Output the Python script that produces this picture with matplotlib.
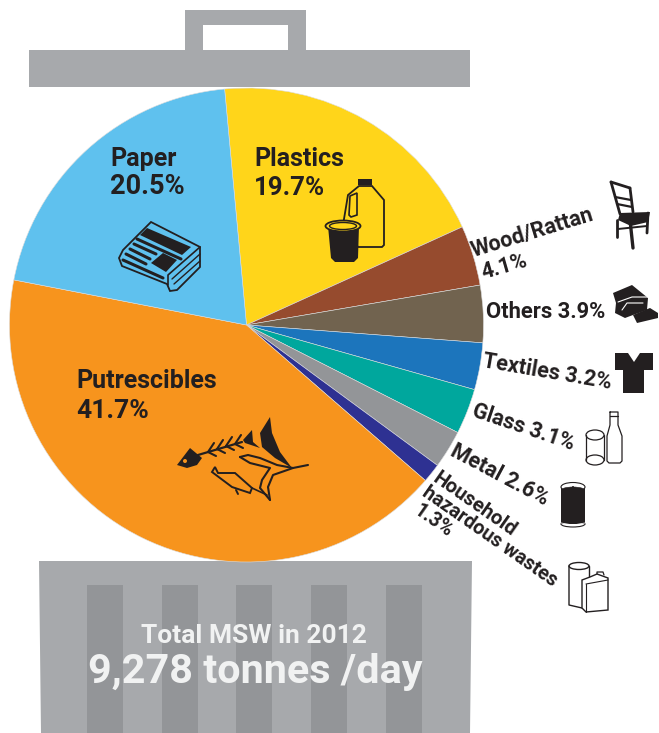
import matplotlib
matplotlib.use('Agg')
import matplotlib.pyplot as plt
import matplotlib.patches as mp

labels = ['Plastics', 'Wood/Rattan', 'Others', 'Textiles', 'Glass', 'Metal',
          'Household hazardous wastes', 'Putrescibles', 'Paper']
shares = [19.7, 4.1, 3.9, 3.2, 3.1, 2.6, 1.3, 41.7, 20.5]
colors = ['#ffd51a', '#964b2e', '#71634f', '#1c75bc', '#00a79d', '#939598',
          '#2e3192', '#f7941d', '#5fc1ee']

GREY = '#a7a9ac'
DARK = '#939598'
INK = '#231f20'
H = 733

plt.rcParams['font.family'] = ['Roboto', 'DejaVu Sans']

fig = plt.figure(figsize=(6.59, 7.33), dpi=100)
ax = fig.add_axes([0, 0, 1, 1])


# everything below is placed in image pixels, y measured from the top
def Y(y):
    return H - y


def poly(pts, fc=INK, ec='none', lw=0, z=5):
    ax.add_patch(mp.Polygon([(x, Y(y)) for x, y in pts], closed=True, facecolor=fc,
                            edgecolor=ec, linewidth=lw, zorder=z))


def rect(x0, y0, x1, y1, fc=GREY, z=1):
    poly([(x0, y0), (x1, y0), (x1, y1), (x0, y1)], fc=fc, z=z)


def line(pts, color=INK, lw=1.2, z=6):
    ax.plot([p[0] for p in pts], [Y(p[1]) for p in pts], color=color, lw=lw,
            zorder=z, solid_capstyle='round', solid_joinstyle='round')


def oval(x, y, w, h, fc='none', ec=INK, lw=1.2, z=6):
    ax.add_patch(mp.Ellipse((x, Y(y)), w, h, facecolor=fc, edgecolor=ec,
                            linewidth=lw, zorder=z))


def label(x, y, s, size=16, rot=0, color=INK, ha='left'):
    ax.text(x, Y(y), s, fontsize=size, rotation=rot, color=color, weight='bold',
            ha=ha, va='baseline', rotation_mode='anchor', zorder=8)


# bin
rect(185, 10, 306, 50)
rect(203, 25, 288, 50, fc='white', z=2)
rect(29, 50, 470, 87)
poly([(39, 561), (472, 561), (470, 733), (41, 733)], fc=GREY, z=1)
for x0, x1 in [(87, 123), (162, 198), (236, 272), (311, 347), (386, 422)]:
    rect(x0, 585, x1, 733, fc=DARK, z=2)

# pie
wedges, _ = ax.pie(shares, colors=colors, center=(246.5, Y(325)), radius=237,
                   startangle=95.3, counterclock=False,
                   wedgeprops={'linewidth': 0.4, 'edgecolor': '#dddddd', 'zorder': 3})
ax.set_xlim(0, 659)
ax.set_ylim(0, H)
ax.set_aspect('equal')
ax.axis('off')

# labels inside the pie
label(254, 166, labels[0], 18)
label(254, 195, '%.1f%%' % shares[0], 18.5)
label(110, 166, labels[8], 18)
label(110, 194, '%.1f%%' % shares[8], 19.5)
label(76, 388, labels[7], 18)
label(76, 418, '%.1f%%' % shares[7], 19)

# labels outside the pie
label(473, 257, labels[1], 15.5, rot=17)
label(483, 279, '%.1f%%' % shares[1], 15.5, rot=16)
label(486, 318, '%s %.1f%%' % (labels[2], shares[2]), 15.8)
label(482, 367, '%s %.1f%%' % (labels[3], shares[3]), 15.6, rot=-9.7)
label(471, 416, '%s %.1f%%' % (labels[4], shares[4]), 15.5, rot=-18.7)
label(449, 455, '%s %.1f%%' % (labels[5], shares[5]), 15.6, rot=-28)
label(432, 481, 'Household', 14.5, rot=-35)
label(421, 495, 'hazardous wastes', 14.2, rot=-35)
label(412, 513, '%.1f%%' % shares[6], 14.2, rot=-35)

# total
label(254, 643, 'Total MSW in 2012', 19, color='#f1f2f2', ha='center')
label(255, 683, '9,278 tonnes /day', 29.8, color='#f1f2f2', ha='center')

# jug and cup
poly([(359, 186), (372, 186), (384, 200), (384, 245), (382, 247), (358, 247), (343, 225),
      (348, 195)], fc='none', ec=INK, lw=1.3)
poly([(350, 196), (357, 193), (357, 215), (351, 217), (349, 215)], fc='none', ec=INK, lw=1.2)
rect(358, 179, 372, 185, fc=INK, z=5)
poly([(328, 226), (359, 226), (358, 258), (354, 262), (335, 262), (331, 258)], fc=INK, z=6)
oval(343, 226, 35, 11, fc='#ffd51a', lw=1.3, z=7)
oval(343, 226, 27, 7, fc='#ffd51a', lw=1, z=7)

# newspaper
poly([(151, 222), (200, 247), (200, 267), (177, 290), (170, 291), (167, 284), (122, 266),
      (119, 258), (123, 250)], fc='none', ec=INK, lw=1.3)
line([(200, 247), (168, 275), (168, 285)])
line([(200, 254), (172, 279)], lw=1)
line([(200, 261), (174, 284)], lw=1)
poly([(147, 228), (191, 247), (182, 255), (140, 235)])
line([(137, 239), (181, 259)], lw=2.2)
line([(134, 244), (156, 254)], lw=2.2)
line([(130, 249), (150, 259)], lw=2.2)
line([(126, 254), (146, 264)], lw=2.2)
poly([(163, 253), (177, 260), (166, 272), (151, 263)])
line([(123, 260), (163, 278)], lw=2.2)

# fish skeleton
poly([(177, 465), (190, 448), (202, 458), (197, 465), (187, 468)])
oval(185, 461, 4, 4, fc='#f7941d', ec='none', lw=0, z=7)
line([(198, 455), (242, 442)], lw=1.6)
for x, y in [(208, 452), (217, 449), (226, 446), (235, 444)]:
    line([(x, y), (x + 6, y - 9)], lw=1.5)
    line([(x, y), (x + 8, y + 4)], lw=1.5)
poly([(243, 440), (252, 430), (253, 442), (260, 448), (245, 443)])
poly([(270, 417), (260, 433), (262, 447), (275, 458), (292, 468), (280, 452), (272, 433)])

# second fish
line([(240, 457), (248, 455), (260, 458), (277, 465), (293, 468), (308, 465)], lw=1.5)
line([(240, 457), (250, 463), (270, 468), (262, 480), (260, 488), (270, 500)], lw=1.5)
line([(293, 468), (273, 475), (268, 487), (270, 500)], lw=1.5)
poly([(212, 472), (215, 467), (218, 473), (235, 473), (252, 488), (250, 493), (232, 487)],
     fc='none', ec=INK, lw=1.4, z=6)
line([(252, 488), (267, 495)], lw=1.2)
line([(236, 490), (238, 494)], lw=1.4)

# chair
line([(611, 182), (620, 214)], lw=2)
line([(611, 182), (630, 188)], lw=2)
line([(630, 188), (633, 212)], lw=2)
line([(615, 197), (631, 200)], lw=1.6)
line([(617, 204), (632, 207)], lw=1.6)
poly([(620, 213), (650, 212), (648, 222), (631, 226), (618, 220)])
line([(617, 220), (617, 237)], lw=2)
line([(630, 220), (633, 248)], lw=2.4)
line([(648, 213), (647, 233)], lw=2)
line([(618, 229), (647, 226)], lw=1.4)

# rubble
poly([(613, 293), (632, 285), (648, 298), (647, 310), (633, 315), (625, 318), (615, 313), (616, 303)])
poly([(633, 315), (650, 308), (658, 313), (658, 318), (637, 323)])
line([(618, 302), (632, 297), (648, 297)], color='white', lw=0.8)
line([(622, 310), (627, 303), (643, 303)], color='white', lw=0.8)

# t-shirt
poly([(615, 353), (628, 353), (634, 362), (640, 353), (653, 353), (653, 370), (644, 370),
      (644, 393), (623, 393), (623, 370), (615, 370)])

# glass and bottle
line([(586, 435), (586, 460)], lw=0.9)
line([(604, 435), (604, 460)], lw=0.9)
oval(595, 435, 18, 10, lw=0.9)
oval(595, 460, 18, 10, lw=0.9)
line([(610, 412), (610, 425), (607, 436), (607, 461), (609, 463), (620, 463), (622, 461),
      (622, 436), (618, 425), (618, 412), (610, 412)], lw=0.9)
line([(610, 416), (618, 416)], lw=0.9)

# can
rect(561, 487, 585, 524, fc=INK, z=5)
oval(573, 487, 24, 9, fc='white', ec=INK, lw=0.8, z=6)
oval(573, 490, 23, 6, fc=INK, ec=INK, lw=0.4, z=7)
oval(573, 487, 2, 2, fc=INK, ec='none', lw=0, z=8)
oval(573, 524, 24, 6, fc='white', ec=INK, lw=0.8, z=4)
line([(561, 523), (573, 525), (585, 523)], color='white', lw=0.6, z=7)

# chemical containers
oval(579, 566, 20, 7, lw=1)
line([(569, 566), (569, 605), (582, 608)], lw=1)
line([(589, 566), (589, 578)], lw=1)
poly([(582, 580), (590, 577), (597, 574), (608, 578), (608, 610), (586, 612), (582, 608)],
     fc='white', ec=INK, lw=1, z=7)
line([(586, 584), (608, 580)], lw=0.8, z=8)
line([(586, 584), (586, 612)], lw=0.8, z=8)
line([(597, 574), (597, 572), (603, 572), (604, 575)], lw=0.9, z=8)

fig.savefig('out.png', dpi=100)
